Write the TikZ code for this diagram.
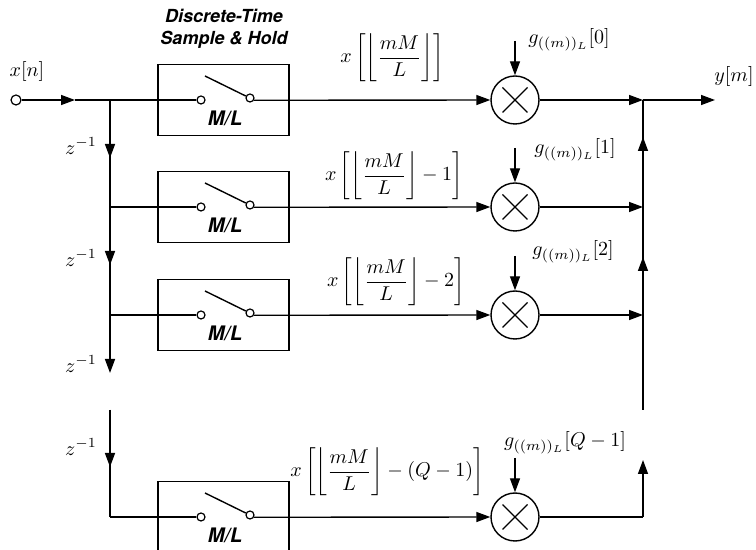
\documentclass[tikz,border=0pt]{standalone}
\usepackage{amsmath}
\usepackage{fontspec}
\newfontfamily\helv{TeX Gyre Heros}
\usetikzlibrary{arrows.meta}
\usetikzlibrary{calc}
\tikzset{
  sig/.style={line width=0.7pt},
  arr/.style={sig, -{Triangle[length=7pt,width=5pt]}},
  shbox/.style={draw, line width=0.7pt, minimum width=65.5pt, minimum height=35.5pt, inner sep=0pt},
  tapdot/.style={circle, draw, fill=white, line width=0.6pt, inner sep=0pt, minimum size=4pt},
  mult/.style={circle, draw, line width=0.7pt, inner sep=0pt, minimum size=24pt},
  blocktxt/.style={font=\helv\bfseries\itshape},
}

\begin{document}
\begin{tikzpicture}[x=0.5pt,y=-0.5pt]
                        \useasboundingbox (0,0) rectangle (756,550);
                        \clip (0,0) rectangle (756,550);
                        % Input terminal
                        \node[tapdot, minimum size=5pt] (in) at (16,100) {};
                        \node (xn) at (27,72) {$x[n]$};
                        \coordinate (inarr) at (75,100);
                        % Block title
                        \node[blocktxt, font=\helv\bfseries\itshape\small, align=center] (title) at (224,29) {Discrete-Time\\Sample \& Hold};
                        % One branch per row: sample & hold, multiplier, output
                        \foreach \i/\y in {
                              1/100,
                              2/207,
                              3/315,
                              4/517
                        } {
                            \coordinate (j\i) at (110,\y);
                            \node[shbox] (box\i) at (223.5,\y) {};
                            % Switch contacts and lever
                            \node[tapdot] (sa\i) at (201,\y) {};
                            \node[tapdot] (sb\i) at (250,{\y-2}) {};
                            \coordinate (lv\i) at (205,{\y-24});
                            \draw[sig] (lv\i) -- (sb\i.155);
                            \node[blocktxt] (ml\i) at (225,{\y+18}) {M/L};
                            % Multiplier with its weight input
                            \node[mult] (mul\i) at (515,\y) {};
                            \draw[sig] ($(mul\i)+(-12.5,-12.5)$) -- ($(mul\i)+(12.5,12.5)$);
                            \draw[sig] ($(mul\i)+(-12.5,12.5)$) -- ($(mul\i)+(12.5,-12.5)$);
                            \coordinate (gs\i) at (515,{\y-59});
                            \draw[arr] (gs\i) -- (mul\i.north);
                            \coordinate (s\i) at (643,\y);
                            % Signal path through the branch
                            \draw[sig] (j\i) -- (sa\i.west);
                            \draw[arr] (sb\i.-30) -- (mul\i.west);
                        }
                        % Input line
                        \draw[arr] (in) -- (inarr);
                        \draw[sig] (inarr) -- (j1);
                        % Delay chain
                        \coordinate (d1) at (110,158);
                        \coordinate (d2) at (110,265);
                        \coordinate (d3) at (110,373);
                        \coordinate (t4) at (110,410);
                        \coordinate (d4) at (110,467);
                        \draw[sig] (j1) -- (j2) -- (j3);
                        \draw[arr] (j1) -- (d1);
                        \draw[arr] (j2) -- (d2);
                        \draw[arr] (j3) -- (d3);
                        \draw[sig] (t4) -- (j4);
                        \draw[arr] (t4) -- (d4);
                        \node (z1) at (81,146) {$z^{-1}$};
                        \node (z2) at (81,258) {$z^{-1}$};
                        \node (z3) at (81,364) {$z^{-1}$};
                        \node (z4) at (81,447) {$z^{-1}$};
                        % Sample labels
                        \node (xl1) at (392,58) {$\displaystyle x\left[\left\lfloor\frac{mM}{L}\right\rfloor\right]$};
                        \node (xl2) at (394,176) {$\displaystyle x\left[\left\lfloor\frac{mM}{L}\right\rfloor-1\right]$};
                        \node (xl3) at (396,282) {$\displaystyle x\left[\left\lfloor\frac{mM}{L}\right\rfloor-2\right]$};
                        \node (xl4) at (387,472) {$\displaystyle x\left[\left\lfloor\frac{mM}{L}\right\rfloor-(Q-1)\right]$};
                        % Weight labels
                        \node (gl1) at (569,40) {$g_{((m))_L}[0]$};
                        \node (gl2) at (575,150) {$g_{((m))_L}[1]$};
                        \node (gl3) at (573,252) {$g_{((m))_L}[2]$};
                        \node (gl4) at (565,443) {$g_{((m))_L}[Q-1]$};
                        % Summing line and output
                        \coordinate (sb) at (643,410);
                        \coordinate (u2) at (643,137);
                        \coordinate (u3) at (643,257);
                        \coordinate (u4) at (643,460);
                        \coordinate (out) at (715,100);
                        \draw[arr] (mul1.east) -- (s1);
                        \draw[arr] (mul2.east) -- (s2);
                        \draw[arr] (mul3.east) -- (s3);
                        \draw[sig] (mul4.east) -- (s4);
                        \draw[arr] (s4) -- (u4);
                        \draw[sig] (sb) -- (s1);
                        \draw[arr] (s3) -- (u3);
                        \draw[arr] (s2) -- (u2);
                        \draw[arr] (s1) -- (out);
                        \node (ym) at (734,77) {$y[m]$};
                    \end{tikzpicture}
\end{document}
